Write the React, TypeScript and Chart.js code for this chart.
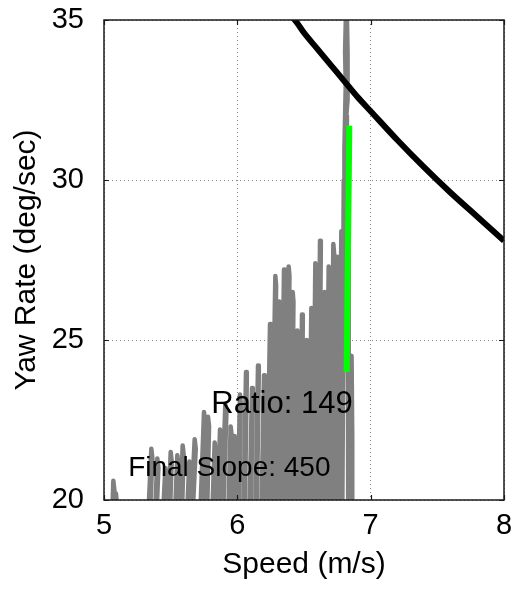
import React, { useEffect, useRef } from "react";
import { Chart, registerables } from "chart.js";

Chart.register(...registerables);

const FONT = "'Liberation Sans', Arial, Helvetica, sans-serif";

// axis ranges / ticks
const xTicks = [5, 6, 7, 8];
const yTicks = [20, 25, 30, 35];
const xTitle = "Speed (m/s)";
const yTitle = "Yaw Rate (deg/sec)";

// annotations
const ratioLabel = "Ratio: 149";
const ratioPos = [6.335, 23.0];
const slopeLabel = "Final Slope: 450";
const slopePos = [5.94, 20.98];

// measured trace (gray), low-speed part, in time order
const lowSpeed = [
  5.06, 5.07, 5.078, 5.072, 5.085, 5.09, 5.094, 5.092,
  5.33, 5.355, 5.363, 5.342, 5.38, 5.4, 5.408, 5.392, 5.44, 5.46, 5.468, 5.452,
  5.48, 5.5, 5.508, 5.492, 5.53, 5.55, 5.558, 5.542, 5.57, 5.59, 5.598, 5.582,
  5.62, 5.64, 5.648, 5.632, 5.65, 5.68, 5.688, 5.662, 5.72, 5.75, 5.758, 5.732,
  5.76, 5.78, 5.788, 5.772, 5.81, 5.83, 5.838, 5.822, 5.85, 5.87, 5.878, 5.862,
  5.88, 5.91, 5.918, 5.892, 5.93, 5.95, 5.958, 5.942, 5.96, 5.98, 5.988, 5.972,
];
const lowYaw = [
  19.3, 20.6, 20.3, 19.3, 19.3, 20.2, 20.0, 19.3,
  19.3, 21.6, 21.3, 19.3, 19.3, 21.3, 21.0, 19.3, 19.3, 21.0, 20.7, 19.3,
  19.3, 21.5, 21.2, 19.3, 19.3, 21.4, 21.1, 19.3, 19.3, 21.7, 21.4, 19.3,
  19.3, 21.2, 20.9, 19.3, 19.3, 21.9, 21.6, 19.3, 19.3, 22.75, 22.45, 19.3,
  19.3, 22.6, 22.3, 19.3, 19.3, 21.8, 21.5, 19.3, 19.3, 22.2, 21.9, 19.3,
  19.3, 23.0, 22.7, 19.3, 19.3, 22.3, 22.0, 19.3, 19.3, 22.0, 21.7, 19.3,
];

// measured trace (gray), high-speed part, in time order
const highSpeed = [
  6.0, 6.02, 6.026, 6.01, 6.045, 6.065, 6.071, 6.055, 6.09, 6.11, 6.116, 6.1,
  6.135, 6.155, 6.161, 6.145, 6.18, 6.2, 6.206, 6.19, 6.22, 6.245, 6.251, 6.23,
  6.255, 6.285, 6.291, 6.265, 6.29, 6.315, 6.321, 6.3, 6.325, 6.35, 6.356, 6.335,
  6.36, 6.385, 6.391, 6.37, 6.395, 6.415, 6.421, 6.405, 6.43, 6.45, 6.456, 6.44,
  6.465, 6.485, 6.491, 6.475, 6.5, 6.52, 6.526, 6.51, 6.535, 6.555, 6.561, 6.545,
  6.565, 6.585, 6.591, 6.575, 6.6, 6.62, 6.626, 6.61, 6.635, 6.655, 6.661, 6.645,
  6.665, 6.685, 6.691, 6.675, 6.7, 6.72, 6.726, 6.71, 6.73, 6.75, 6.756, 6.74,
  6.76, 6.78, 6.786, 6.77,
];
const highYaw = [
  19.3, 23.3, 23.0, 19.3, 19.3, 24.0, 23.7, 19.3, 19.3, 23.5, 23.2, 19.3,
  19.3, 24.2, 23.9, 19.3, 19.3, 23.9, 23.6, 19.3, 19.3, 25.5, 25.2, 19.3,
  19.3, 27.0, 26.7, 19.3, 19.3, 26.2, 25.9, 19.3, 19.3, 27.2, 26.9, 19.3,
  19.3, 27.3, 27.0, 19.3, 19.3, 26.5, 26.2, 19.3, 19.3, 25.3, 25.0, 19.3,
  19.3, 25.8, 25.5, 19.3, 19.3, 25.0, 24.7, 19.3, 19.3, 26.0, 25.7, 19.3,
  19.3, 27.4, 27.1, 19.3, 19.3, 28.1, 27.8, 19.3, 19.3, 26.5, 26.2, 19.3,
  19.3, 27.3, 27.0, 19.3, 19.3, 28.0, 27.7, 19.3, 19.3, 27.6, 27.3, 19.3,
  19.3, 28.4, 28.1, 19.3,
];

// measured trace (gray), final climb near constant speed
const climbSpeed = [
  6.785, 6.8, 6.805, 6.815, 6.81, 6.818, 6.825, 6.825, 6.815, 6.82, 6.83, 6.83, 6.835,
  6.835, 6.845, 6.855, 6.86, 6.86,
];
const climbYaw = [
  19.3, 30.0, 31.0, 33.0, 34.0, 35.5, 34.0, 32.5, 32.0, 31.0, 28.0, 24.0, 21.0,
  19.3, 23.0, 24.5, 22.0, 19.3,
];

// limit curve (black)
const limitSpeed = [6.4, 6.45, 6.5, 6.6, 6.7, 6.8, 6.9, 7.0, 7.2, 7.4, 7.6, 7.8, 8.0];
const limitYaw = [35.16, 34.9, 34.6, 34.1, 33.6, 33.1, 32.6, 32.15, 31.25, 30.4, 29.6, 28.85, 28.1];

// final slope segment (green)
const slopeSpeed = [6.82, 6.84];
const slopeYaw = [24.0, 31.7];

const pts = (xs: number[], ys: number[]) => xs.map((x, i) => ({ x, y: ys[i] }));

const overlayPlugin = {
  id: "overlay",
  afterDatasetsDraw(chart: any) {
    const { ctx, chartArea: a, scales } = chart;
    const x = scales.x;
    const y = scales.y;
    ctx.save();
    ctx.fillStyle = "#000";
    ctx.textAlign = "center";
    ctx.textBaseline = "middle";
    ctx.font = `31px ${FONT}`;
    ctx.fillText(ratioLabel, x.getPixelForValue(ratioPos[0]), y.getPixelForValue(ratioPos[1]));
    ctx.font = `28px ${FONT}`;
    ctx.fillText(slopeLabel, x.getPixelForValue(slopePos[0]), y.getPixelForValue(slopePos[1]));
    ctx.strokeStyle = "#1a1a1a";
    ctx.lineWidth = 1.5;
    ctx.strokeRect(a.left, a.top, a.right - a.left, a.bottom - a.top);
    ctx.lineWidth = 1.2;
    ctx.beginPath();
    for (const v of xTicks) {
      const px = Math.round(x.getPixelForValue(v)) + 0.5;
      ctx.moveTo(px, a.bottom);
      ctx.lineTo(px, a.bottom - 5);
      ctx.moveTo(px, a.top);
      ctx.lineTo(px, a.top + 5);
    }
    for (const v of yTicks) {
      const py = Math.round(y.getPixelForValue(v)) + 0.5;
      ctx.moveTo(a.left, py);
      ctx.lineTo(a.left + 5, py);
      ctx.moveTo(a.right, py);
      ctx.lineTo(a.right - 5, py);
    }
    ctx.stroke();
    ctx.restore();
  },
};

export default function App() {
  const ref = useRef<HTMLCanvasElement | null>(null);
  useEffect(() => {
    if (!ref.current) return;
    const gray = "#808080";
    const lineCommon = {
      showLine: true,
      pointRadius: 0,
      pointHoverRadius: 0,
      fill: false,
      clip: 0,
    };
    const traceStyle = {
      ...lineCommon,
      borderColor: gray,
      borderWidth: 4.5,
      borderJoinStyle: "round",
      borderCapStyle: "round",
      tension: 0,
      order: 3,
    };
    const chart = new Chart(ref.current, {
      type: "scatter",
      data: {
        datasets: [
          { ...traceStyle, label: "trace low", data: pts(lowSpeed, lowYaw) },
          { ...traceStyle, label: "trace high", data: pts(highSpeed, highYaw) },
          { ...traceStyle, label: "trace climb", data: pts(climbSpeed, climbYaw), borderWidth: 5 },
          {
            ...lineCommon,
            label: "limit",
            data: pts(limitSpeed, limitYaw),
            borderColor: "#000000",
            borderWidth: 6,
            cubicInterpolationMode: "monotone",
            order: 2,
          },
          {
            ...lineCommon,
            label: "final slope",
            data: pts(slopeSpeed, slopeYaw),
            borderColor: "#00ff00",
            borderWidth: 6,
            borderCapStyle: "butt",
            order: 1,
          },
        ],
      } as any,
      options: {
        responsive: false,
        animation: false,
        devicePixelRatio: 1,
        layout: { padding: { left: 0, right: 12, top: 20, bottom: 0 } },
        plugins: { legend: { display: false }, tooltip: { enabled: false } },
        events: [],
        scales: {
          x: {
            type: "linear",
            min: 5,
            max: 8,
            afterBuildTicks: (s: any) => {
              s.ticks = xTicks.map((v) => ({ value: v }));
            },
            afterFit: (s: any) => {
              s.height = 90;
              s.paddingLeft = 0;
              s.paddingRight = 0;
            },
            ticks: {
              color: "#000",
              font: { family: FONT, size: 29 },
              padding: 9,
              maxRotation: 0,
              autoSkip: false,
            },
            grid: { color: "#888", lineWidth: 1, drawTicks: false },
            border: { display: false, dash: [1, 3] },
            title: {
              display: true,
              text: xTitle,
              color: "#000",
              font: { family: FONT, size: 30 },
              padding: { top: 0, bottom: 7 },
            },
          },
          y: {
            type: "linear",
            min: 20,
            max: 35,
            afterBuildTicks: (s: any) => {
              s.ticks = yTicks.map((v) => ({ value: v }));
            },
            afterFit: (s: any) => {
              s.width = 104;
              s.paddingTop = 0;
              s.paddingBottom = 0;
            },
            ticks: {
              color: "#000",
              font: { family: FONT, size: 29 },
              padding: 20,
              autoSkip: false,
            },
            grid: { color: "#888", lineWidth: 1, drawTicks: false },
            border: { display: false, dash: [1, 3] },
            title: {
              display: true,
              text: yTitle,
              color: "#000",
              font: { family: FONT, size: 30 },
              padding: { top: 9, bottom: 0 },
            },
          },
        },
      } as any,
      plugins: [overlayPlugin],
    });
    return () => chart.destroy();
  }, []);
  return (
    <div style={{ position: "absolute", left: 0, top: 0, width: 516, height: 590, background: "#fff" }}>
      <canvas ref={ref} width={516} height={590} />
    </div>
  );
}
